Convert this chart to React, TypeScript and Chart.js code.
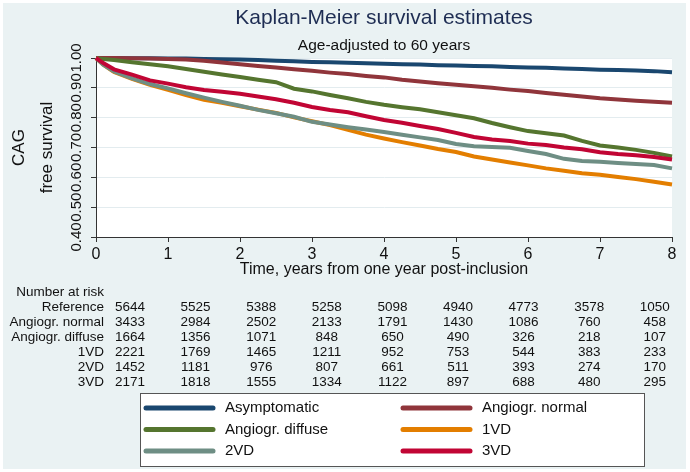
import React, { useEffect, useRef } from "react";
import { Chart, registerables } from "chart.js";

Chart.register(...registerables);

// ---- Data ----
const TIMES = [0, 0.1, 0.25, 0.5, 0.75, 1, 1.25, 1.5, 1.75, 2, 2.25, 2.5, 2.75, 3, 3.25, 3.5, 3.75, 4, 4.25, 4.5, 4.75, 5, 5.25, 5.5, 5.75, 6, 6.25, 6.5, 6.75, 7, 7.25, 7.5, 7.75, 8];

const ASYMPTOMATIC = [1.0, 1.0, 1.0, 0.999, 0.999, 0.998, 0.998, 0.997, 0.996, 0.995, 0.993, 0.991, 0.989, 0.987, 0.986, 0.984, 0.982, 0.981, 0.979, 0.978, 0.976, 0.975, 0.973, 0.972, 0.97, 0.968, 0.967, 0.965, 0.963, 0.961, 0.96, 0.958, 0.956, 0.952];
const ANGIO_NORMAL = [1.0, 1.0, 1.0, 0.999, 0.998, 0.997, 0.995, 0.991, 0.985, 0.979, 0.973, 0.968, 0.962, 0.957, 0.951, 0.946, 0.94, 0.935, 0.927, 0.921, 0.915, 0.91, 0.905, 0.9, 0.894, 0.889, 0.883, 0.877, 0.871, 0.865, 0.861, 0.857, 0.853, 0.85];
const ANGIO_DIFFUSE = [1.0, 0.997, 0.993, 0.986, 0.979, 0.972, 0.963, 0.954, 0.945, 0.936, 0.927, 0.919, 0.897, 0.888, 0.876, 0.865, 0.853, 0.843, 0.835, 0.828, 0.818, 0.808, 0.798, 0.782, 0.768, 0.755, 0.748, 0.74, 0.722, 0.707, 0.7, 0.692, 0.682, 0.67];
const VD1 = [1.0, 0.978, 0.953, 0.93, 0.91, 0.893, 0.876, 0.86, 0.85, 0.838, 0.827, 0.816, 0.801, 0.788, 0.775, 0.759, 0.743, 0.73, 0.718, 0.707, 0.695, 0.685, 0.67, 0.66, 0.65, 0.64, 0.63, 0.622, 0.614, 0.609, 0.601, 0.594, 0.585, 0.576];
const VD2 = [1.0, 0.978, 0.955, 0.932, 0.913, 0.898, 0.882, 0.867, 0.853, 0.84, 0.826, 0.815, 0.803, 0.786, 0.777, 0.768, 0.76, 0.752, 0.743, 0.734, 0.725, 0.712, 0.704, 0.702, 0.699, 0.688, 0.678, 0.662, 0.655, 0.652, 0.648, 0.645, 0.641, 0.63];
const VD3 = [1.0, 0.983, 0.962, 0.944, 0.925, 0.914, 0.902, 0.893, 0.887, 0.88, 0.871, 0.862, 0.85, 0.836, 0.826, 0.818, 0.805, 0.792, 0.783, 0.772, 0.762, 0.749, 0.735, 0.727, 0.722, 0.713, 0.708, 0.7, 0.694, 0.684, 0.678, 0.674, 0.668, 0.66];

const SERIES_LABELS = ["Asymptomatic", "Angiogr. normal", "Angiogr. diffuse", "1VD", "2VD", "3VD"];
const SERIES_VALUES = [ASYMPTOMATIC, ANGIO_NORMAL, ANGIO_DIFFUSE, VD1, VD2, VD3];
const SERIES_COLORS = ["#1a476f", "#90353b", "#55752f", "#e37e00", "#6e8e84", "#c10534"];

const X_TICKS = [0, 1, 2, 3, 4, 5, 6, 7, 8];
const Y_TICKS = [0.4, 0.5, 0.6, 0.7, 0.8, 0.9, 1.0];

const RISK_LABELS = ["Reference", "Angiogr. normal", "Angiogr. diffuse", "1VD", "2VD", "3VD"];
const RISK_REFERENCE = [5644, 5525, 5388, 5258, 5098, 4940, 4773, 3578, 1050];
const RISK_NORMAL = [3433, 2984, 2502, 2133, 1791, 1430, 1086, 760, 458];
const RISK_DIFFUSE = [1664, 1356, 1071, 848, 650, 490, 326, 218, 107];
const RISK_1VD = [2221, 1769, 1465, 1211, 952, 753, 544, 383, 233];
const RISK_2VD = [1452, 1181, 976, 807, 661, 511, 393, 274, 170];
const RISK_3VD = [2171, 1818, 1555, 1334, 1122, 897, 688, 480, 295];
const RISK_ROWS = [RISK_REFERENCE, RISK_NORMAL, RISK_DIFFUSE, RISK_1VD, RISK_2VD, RISK_3VD];

const TITLE = "Kaplan-Meier survival estimates";
const SUBTITLE = "Age-adjusted to 60 years";
const X_TITLE = "Time, years from one year post-inclusion";
const Y_TITLE = ["CAG", "free survival"];

const FONT = "'Liberation Sans', Arial, Helvetica, sans-serif";
const BG = "#eaf2f3";
const TEXT = "#111111";

const decorPlugin = {
  id: "decor",
  beforeDraw(chart: any) {
    const { ctx, width, height, chartArea } = chart;
    ctx.save();
    ctx.fillStyle = "#ffffff";
    ctx.fillRect(0, 0, width, height);
    ctx.fillStyle = BG;
    ctx.fillRect(3, 3, width - 7, height - 6);
    ctx.fillStyle = "#ffffff";
    ctx.fillRect(chartArea.left, chartArea.top, chartArea.right - chartArea.left, chartArea.bottom - chartArea.top);
    ctx.restore();
  },
  afterDraw(chart: any) {
    const { ctx, chartArea } = chart;
    const cx = (chartArea.left + chartArea.right) / 2;
    ctx.save();
    ctx.textBaseline = "middle";
    // Titles
    ctx.textAlign = "center";
    ctx.fillStyle = "#1e2d53";
    ctx.font = `21px ${FONT}`;
    ctx.fillText(TITLE, cx, 18);
    ctx.fillStyle = TEXT;
    ctx.font = `15.5px ${FONT}`;
    ctx.fillText(SUBTITLE, cx, 46);

    // Number at risk table
    ctx.font = `13.5px ${FONT}`;
    ctx.fillStyle = TEXT;
    const labelRight = 104;
    const rowTop = 292;
    const rowStep = 15;
    ctx.textAlign = "right";
    ctx.fillText("Number at risk", labelRight, rowTop);
    RISK_LABELS.forEach((lab, i) => {
      const y = rowTop + rowStep * (i + 1);
      ctx.textAlign = "right";
      ctx.fillText(lab, labelRight, y);
      ctx.textAlign = "center";
      RISK_ROWS[i].forEach((v, k) => {
        ctx.fillText(String(v), 130 + 65.6 * k, y);
      });
    });

    // Legend
    const bx = 140, by = 393, bw = 504, bh = 73;
    ctx.fillStyle = "#ffffff";
    ctx.fillRect(bx, by, bw, bh);
    ctx.strokeStyle = "#555555";
    ctx.lineWidth = 1;
    ctx.strokeRect(bx + 0.5, by + 0.5, bw, bh);
    ctx.font = `15px ${FONT}`;
    ctx.textAlign = "left";
    SERIES_LABELS.forEach((lab, i) => {
      const col = i % 2;
      const row = Math.floor(i / 2);
      const y = by + 15 + row * 21.5;
      const x0 = col === 0 ? 146 : 403;
      ctx.strokeStyle = SERIES_COLORS[i];
      ctx.lineWidth = 5;
      ctx.lineCap = "round";
      ctx.beginPath();
      ctx.moveTo(x0, y);
      ctx.lineTo(x0 + 67, y);
      ctx.stroke();
      ctx.fillStyle = TEXT;
      ctx.fillText(lab, x0 + 79, y);
    });
    ctx.restore();
  },
};

export default function App() {
  const ref = useRef<HTMLCanvasElement | null>(null);
  useEffect(() => {
    if (!ref.current) return;
    const datasets = SERIES_LABELS.map((label, i) => ({
      label,
      data: TIMES.map((t, j) => ({ x: t, y: SERIES_VALUES[i][j] })),
      borderColor: SERIES_COLORS[i],
      backgroundColor: SERIES_COLORS[i],
      borderWidth: 4,
      pointRadius: 0,
      tension: 0,
      fill: false,
      clip: false as any,
      order: SERIES_LABELS.length - i,
    }));
    const chart = new Chart(ref.current, {
      type: "line",
      data: { datasets },
      plugins: [decorPlugin],
      options: {
        responsive: false,
        animation: false,
        devicePixelRatio: 1,
        layout: { padding: { top: 58, right: 18, bottom: 190, left: 0 } },
        plugins: { legend: { display: false }, tooltip: { enabled: false }, title: { display: false } },
        scales: {
          x: {
            type: "linear",
            min: 0,
            max: 8,
            afterFit: (s: any) => { s.height = 45; },
            afterBuildTicks: (s: any) => { s.ticks = X_TICKS.map((v) => ({ value: v })); },
            ticks: { font: { family: FONT, size: 16 }, color: TEXT, padding: 3, maxRotation: 0, autoSkip: false },
            grid: { drawOnChartArea: false, tickLength: 5, tickColor: "#333333" },
            border: { color: "#333333", width: 1 },
            title: { display: true, text: X_TITLE, font: { family: FONT, size: 16 }, color: TEXT, padding: { top: 0, bottom: 3 } },
          },
          y: {
            type: "linear",
            min: 0.4,
            max: 1.0,
            afterFit: (s: any) => { s.width = 96; },
            afterBuildTicks: (s: any) => { s.ticks = Y_TICKS.map((v) => ({ value: v })); },
            ticks: {
              font: { family: FONT, size: 15 },
              color: TEXT,
              padding: 0,
              minRotation: 90,
              maxRotation: 90,
              crossAlign: "center",
              autoSkip: false,
              callback: (v: any) => Number(v).toFixed(2),
            },
            grid: { color: "#e3ecef", lineWidth: 1, tickLength: 5, tickColor: "#333333" },
            border: { color: "#333333", width: 1 },
            title: { display: true, text: Y_TITLE, font: { family: FONT, size: 17, lineHeight: 28 / 17 }, color: TEXT, padding: { top: 5, bottom: 0 } },
          },
        },
      } as any,
    });
    return () => chart.destroy();
  }, []);
  return (
    <div style={{ position: "absolute", left: 0, top: 0, width: 690, height: 472 }}>
      <canvas ref={ref} width={690} height={472} />
    </div>
  );
}
